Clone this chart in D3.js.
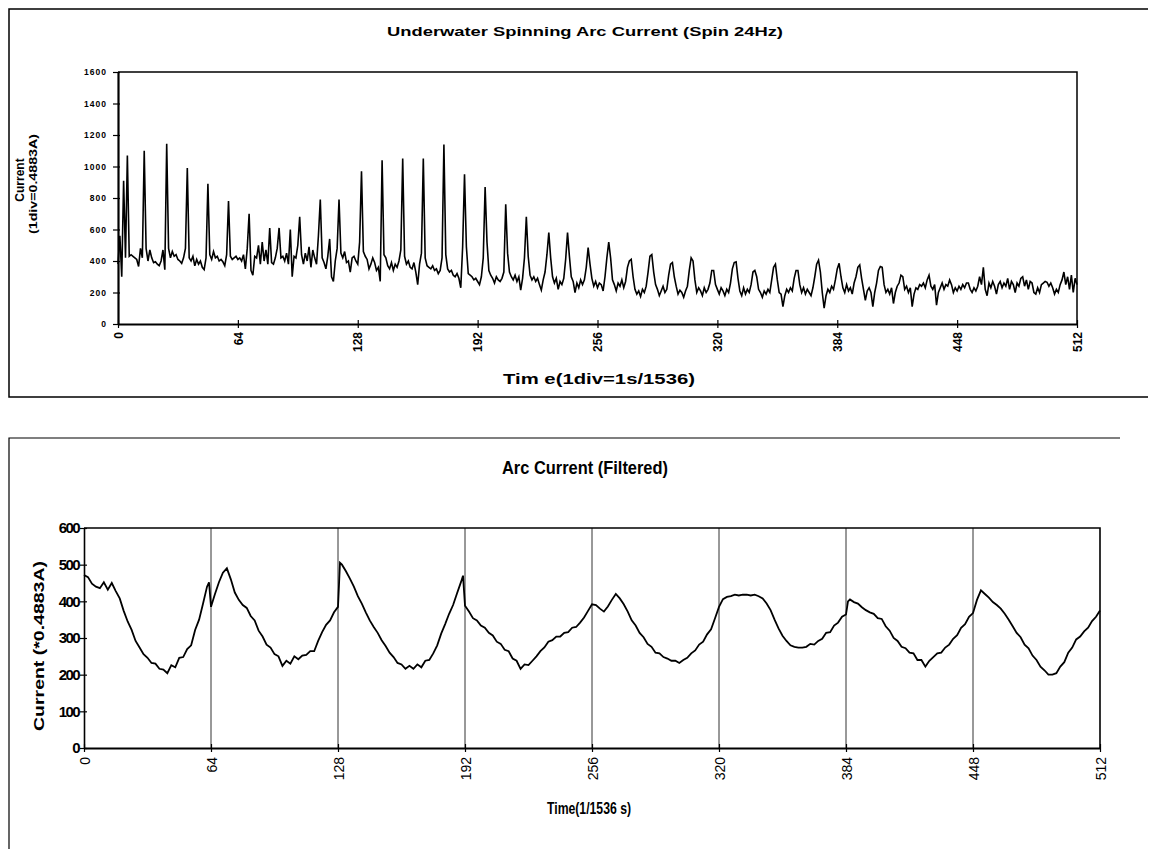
<!DOCTYPE html>
<html>
<head>
<meta charset="utf-8">
<script src="https://cdn.jsdelivr.net/npm/d3@7"></script>
<style>
  body { margin: 0; background: #fff; }
  svg { display: block; }
  text { font-family: "Liberation Sans", Arial, sans-serif; fill: #000; }
</style>
</head>
<body>
<svg id="chart" width="1153" height="849"></svg>
<script>
// raw current, one sample per div (t = 0..512)
const rawCurrent = [
  380, 560, 300, 910, 420, 1070, 430, 440, 430, 420, 410,
  365, 480, 420, 1100, 480, 400, 470, 420, 390, 395, 380,
  370, 400, 470, 345, 1145, 480, 420, 460, 430, 440, 410,
  400, 385, 420, 480, 990, 420, 400, 430, 370, 410, 380,
  400, 360, 345, 420, 890, 440, 410, 460, 420, 430, 400,
  410, 395, 370, 440, 780, 430, 410, 420, 430, 410, 420,
  400, 440, 350, 480, 700, 340, 310, 430, 420, 500, 380,
  520, 400, 470, 380, 610, 390, 380, 420, 480, 610, 420,
  430, 400, 450, 380, 600, 300, 430, 420, 500, 680, 440,
  380, 450, 400, 490, 360, 470, 420, 380, 560, 790, 420,
  390, 350, 430, 540, 300, 270, 400, 480, 790, 450, 420,
  460, 390, 400, 330, 420, 430, 400, 380, 520, 970, 460,
  430, 410, 350, 380, 420, 390, 340, 360, 270, 1040, 440,
  420, 370, 350, 390, 340, 380, 360, 400, 470, 1050, 430,
  380, 400, 360, 350, 390, 330, 250, 380, 450, 1050, 420,
  370, 360, 350, 370, 340, 350, 320, 340, 420, 1140, 440,
  350, 330, 340, 310, 300, 320, 290, 230, 490, 950, 490,
  320, 310, 300, 280, 290, 270, 250, 300, 420, 870, 520,
  340, 310, 290, 260, 300, 280, 270, 290, 330, 760, 450,
  330, 300, 280, 310, 270, 300, 215, 290, 420, 680, 430,
  310, 280, 300, 270, 290, 250, 215, 280, 330, 440, 580,
  420, 300, 260, 290, 220, 270, 250, 290, 410, 580, 430,
  300, 270, 200, 260, 230, 280, 250, 280, 360, 485, 380,
  290, 240, 270, 230, 260, 250, 210, 300, 420, 520, 420,
  280, 250, 210, 260, 240, 280, 230, 270, 360, 400, 410,
  300, 220, 190, 210, 175, 220, 200, 240, 330, 430, 440,
  330, 250, 220, 180, 210, 240, 200, 220, 310, 380, 390,
  300, 240, 190, 215, 200, 170, 210, 240, 340, 420, 400,
  280, 200, 230, 210, 180, 230, 200, 220, 260, 340, 340,
  250, 220, 190, 230, 210, 180, 220, 200, 260, 350, 390,
  395, 290, 210, 180, 230, 190, 220, 200, 250, 330, 340,
  300, 220, 200, 170, 210, 190, 220, 200, 280, 360, 380,
  280, 200, 190, 110, 180, 220, 200, 230, 210, 290, 340,
  340, 250, 200, 230, 190, 220, 200, 180, 230, 300, 380,
  405, 330, 200, 100, 180, 220, 200, 240, 220, 280, 350,
  385, 300, 230, 200, 250, 210, 230, 190, 260, 300, 360,
  375, 290, 220, 150, 210, 230, 200, 110, 200, 260, 340,
  365, 360, 250, 200, 220, 190, 230, 130, 200, 240, 260,
  310, 300, 220, 240, 200, 230, 110, 190, 230, 220, 250,
  240, 260, 230, 280, 310, 240, 220, 250, 120, 200, 230,
  260, 220, 250, 240, 280, 250, 200, 230, 210, 240, 220,
  250, 230, 260, 260, 220, 200, 230, 210, 240, 300, 250,
  360, 220, 180, 260, 230, 270, 240, 190, 250, 270, 230,
  260, 240, 290, 220, 270, 250, 200, 260, 240, 290, 300,
  240, 280, 220, 270, 260, 200, 190, 230, 200, 250, 260,
  270, 265, 240, 260, 230, 190, 220, 200, 250, 280, 330,
  250, 300, 220, 310, 200, 290, 250
];

// filtered current, read at irregular times
const filtTime = [
  0, 2, 4, 6, 8, 10, 12, 14, 16, 18, 20, 22, 24, 26, 28, 30, 32, 34, 36, 38,
  40, 42, 44, 46, 48, 50, 52, 54, 56, 58, 60, 62, 63, 64, 66, 68, 70, 72, 74, 76,
  78, 80, 82, 84, 86, 88, 90, 92, 94, 96, 98, 100, 102, 104, 106, 108, 110, 112, 114, 116,
  118, 120, 122, 124, 126, 128, 129, 130, 132, 134, 136, 138, 140, 142, 144, 146, 148, 150, 152, 154,
  156, 158, 160, 162, 164, 166, 168, 170, 172, 174, 176, 178, 180, 182, 184, 186, 188, 190, 191, 192,
  194, 196, 198, 200, 202, 204, 206, 208, 210, 212, 214, 216, 218, 220, 222, 224, 226, 228, 230, 232,
  234, 236, 238, 240, 242, 244, 246, 248, 250, 252, 254, 256, 258, 260, 262, 264, 266, 268, 270, 272,
  274, 276, 278, 280, 282, 284, 286, 288, 290, 292, 294, 296, 298, 300, 302, 304, 306, 308, 310, 312,
  314, 316, 318, 320, 322, 324, 326, 328, 330, 332, 334, 336, 338, 340, 342, 344, 346, 348, 350, 352,
  354, 356, 358, 360, 362, 364, 366, 368, 370, 372, 374, 376, 378, 380, 382, 384, 385, 386, 388, 390,
  392, 394, 396, 398, 400, 402, 404, 406, 408, 410, 412, 414, 416, 418, 420, 422, 424, 426, 428, 430,
  432, 434, 436, 438, 440, 442, 444, 446, 448, 450, 452, 454, 456, 458, 460, 462, 464, 466, 468, 470,
  472, 474, 476, 478, 480, 482, 484, 486, 488, 490, 492, 494, 496, 498, 500, 502, 504, 506, 508, 510, 512
];
const filtCurrent = [
  472, 466, 448, 440, 436, 452, 432, 450, 428, 408, 374, 345, 322, 292, 274, 256, 246, 232, 230, 216,
  214, 204, 226, 220, 246, 248, 270, 280, 322, 350, 394, 440, 452, 385, 420, 452, 478, 490, 460, 424,
  404, 390, 382, 360, 348, 320, 304, 282, 274, 256, 250, 224, 238, 230, 250, 242, 252, 254, 264, 264,
  292, 316, 336, 348, 370, 385, 505, 500, 482, 462, 440, 414, 394, 370, 348, 330, 314, 294, 278, 260,
  248, 232, 228, 216, 224, 216, 228, 220, 238, 240, 258, 280, 312, 338, 366, 390, 422, 453, 470, 388,
  372, 354, 348, 334, 328, 314, 307, 290, 284, 268, 264, 244, 238, 216, 228, 226, 238, 250, 264, 274,
  290, 294, 304, 304, 314, 316, 328, 330, 342, 356, 374, 392, 390, 380, 372, 386, 404, 420, 408, 392,
  372, 348, 334, 314, 302, 284, 276, 260, 258, 248, 244, 238, 238, 232, 240, 246, 258, 266, 282, 290,
  310, 324, 354, 385, 406, 412, 414, 418, 416, 418, 418, 416, 418, 414, 408, 394, 376, 350, 326, 306,
  292, 280, 276, 274, 274, 276, 284, 282, 292, 298, 314, 316, 334, 342, 358, 364, 400, 405, 398, 394,
  384, 376, 370, 366, 354, 352, 332, 320, 300, 292, 276, 272, 260, 258, 240, 240, 222, 238, 248, 258,
  260, 274, 282, 298, 308, 328, 338, 358, 368, 404, 430, 420, 410, 398, 390, 380, 366, 350, 332, 314,
  302, 282, 272, 252, 240, 222, 212, 200, 200, 204, 222, 234, 260, 274, 296, 304, 318, 328, 346, 358, 375
];

const topXTicks = d3.range(0, 513, 64);
const topYTicks = [0, 200, 400, 600, 800, 1000, 1200, 1400, 1600];
const botXTicks = d3.range(0, 513, 64);
const botYTicks = [0, 100, 200, 300, 400, 500, 600];

const svg = d3.select("#chart");

// ---------- outer frames (scanned page look) ----------
svg.append("path")
  .attr("d", "M1148,9 H9 V397 H1148")
  .attr("fill", "none").attr("stroke", "#000").attr("stroke-width", 1.5);
svg.append("path")
  .attr("d", "M1120,438 H9 V849")
  .attr("fill", "none").attr("stroke", "#000").attr("stroke-width", 1.2);

// ---------- top chart ----------
const xT = d3.scaleLinear().domain([0, 512]).range([118, 1077]);
const yT = d3.scaleLinear().domain([0, 1600]).range([324, 72]);

const topG = svg.append("g");

// plot border (top + right)
topG.append("path")
  .attr("d", `M${xT(0)},${yT(1600)} H${xT(512)} V${yT(0)}`)
  .attr("fill", "none").attr("stroke", "#000").attr("stroke-width", 1.5);

const tyAxis = topG.append("g")
  .attr("transform", `translate(${xT(0)},0)`)
  .call(d3.axisLeft(yT).tickValues(topYTicks).tickFormat(d3.format("d"))
    .tickSize(0).tickPadding(11));
tyAxis.select(".domain").attr("stroke", "#000").attr("stroke-width", 2.2);
tyAxis.selectAll("text")
  .style("font-size", "8.5px").style("font-weight", "bold")
  .style("letter-spacing", "1px")
  .style("font-family", "'Liberation Sans', Arial, sans-serif");
tyAxis.selectAll(".tick").append("line")
  .attr("x1", -5).attr("x2", 2).attr("stroke", "#000").attr("stroke-width", 1.2);

const txAxis = topG.append("g")
  .attr("transform", `translate(0,${yT(0)})`)
  .call(d3.axisBottom(xT).tickValues(topXTicks).tickSize(0).tickFormat(""));
txAxis.select(".domain").attr("stroke", "#000").attr("stroke-width", 2.2);
txAxis.selectAll(".tick").append("line")
  .attr("y1", -4).attr("y2", 4).attr("stroke", "#000").attr("stroke-width", 1.2);
txAxis.selectAll(".tick").append("text")
  .attr("transform", "translate(0,8) rotate(-90)")
  .attr("text-anchor", "end").attr("dy", "0.35em")
  .style("font-size", "12px").style("font-weight", "bold")
  .text(d => d);

const rawLine = d3.line()
  .x((d, i) => xT(i))
  .y(d => yT(d));
topG.append("path")
  .datum(rawCurrent)
  .attr("d", rawLine)
  .attr("fill", "none").attr("stroke", "#000").attr("stroke-width", 1.6)
  .attr("stroke-linejoin", "miter");

topG.append("text")
  .attr("x", 585).attr("y", 36).attr("text-anchor", "middle")
  .attr("textLength", 396).attr("lengthAdjust", "spacingAndGlyphs")
  .style("font-size", "13px").style("font-weight", "bold")
  .text("Underwater Spinning Arc Current (Spin 24Hz)");

topG.append("text")
  .attr("x", 599).attr("y", 384).attr("text-anchor", "middle")
  .attr("textLength", 192).attr("lengthAdjust", "spacingAndGlyphs")
  .style("font-size", "15px").style("font-weight", "bold")
  .text("Tim e(1div=1s/1536)");

topG.append("text")
  .attr("transform", "translate(24,180) rotate(-90)")
  .attr("text-anchor", "middle")
  .style("font-size", "12px").style("font-weight", "bold")
  .text("Current");
topG.append("text")
  .attr("transform", "translate(37,184) rotate(-90)")
  .attr("text-anchor", "middle")
  .attr("textLength", 100).attr("lengthAdjust", "spacingAndGlyphs")
  .style("font-size", "11px").style("font-weight", "bold")
  .text("(1div=0.4883A)");

// ---------- bottom chart ----------
const xB = d3.scaleLinear().domain([0, 512]).range([84, 1100]);
const yB = d3.scaleLinear().domain([0, 600]).range([748, 528]);

const botG = svg.append("g");

// vertical gridlines
botG.selectAll("line.grid")
  .data(botXTicks.filter(d => d > 0 && d < 512))
  .enter().append("line")
  .attr("class", "grid")
  .attr("x1", d => xB(d)).attr("x2", d => xB(d))
  .attr("y1", yB(600)).attr("y2", yB(0))
  .attr("stroke", "#333").attr("stroke-width", 1);

botG.append("path")
  .attr("d", `M${xB(0)},${yB(600)} H${xB(512)} V${yB(0)}`)
  .attr("fill", "none").attr("stroke", "#000").attr("stroke-width", 1.6);

const byAxis = botG.append("g")
  .attr("transform", `translate(${xB(0)},0)`)
  .call(d3.axisLeft(yB).tickValues(botYTicks).tickSize(0).tickPadding(5));
byAxis.select(".domain").attr("stroke", "#000").attr("stroke-width", 1.6);
byAxis.selectAll("text")
  .style("font-size", "15px").style("font-weight", "bold")
  .style("letter-spacing", "-1.6px")
  .style("font-family", "'Liberation Sans', Arial, sans-serif");
byAxis.selectAll(".tick").append("line")
  .attr("x1", -4).attr("x2", 3).attr("stroke", "#000").attr("stroke-width", 1.2);

const bxAxis = botG.append("g")
  .attr("transform", `translate(0,${yB(0)})`)
  .call(d3.axisBottom(xB).tickValues(botXTicks).tickSize(0).tickFormat(""));
bxAxis.select(".domain").attr("stroke", "#000").attr("stroke-width", 2);
bxAxis.selectAll(".tick").append("line")
  .attr("y1", -4).attr("y2", 4).attr("stroke", "#000").attr("stroke-width", 1.2);
bxAxis.selectAll(".tick").append("text")
  .attr("transform", "translate(0,9) rotate(-90)")
  .attr("text-anchor", "end").attr("dy", "0.36em")
  .style("font-size", "14px")
  .text(d => d);

const filtLine = d3.line()
  .x((d, i) => xB(filtTime[i]))
  .y(d => yB(d));
botG.append("path")
  .datum(filtCurrent)
  .attr("d", filtLine)
  .attr("fill", "none").attr("stroke", "#000").attr("stroke-width", 1.8);

botG.append("text")
  .attr("x", 585).attr("y", 474).attr("text-anchor", "middle")
  .attr("textLength", 166).attr("lengthAdjust", "spacingAndGlyphs")
  .style("font-size", "18px").style("font-weight", "bold")
  .text("Arc Current (Filtered)");

botG.append("text")
  .attr("x", 589).attr("y", 814).attr("text-anchor", "middle")
  .attr("textLength", 84).attr("lengthAdjust", "spacingAndGlyphs")
  .style("font-size", "16px").style("font-weight", "bold")
  .text("Time(1/1536 s)");

botG.append("text")
  .attr("transform", "translate(44,646) rotate(-90)")
  .attr("text-anchor", "middle")
  .attr("textLength", 170).attr("lengthAdjust", "spacingAndGlyphs")
  .style("font-size", "15px").style("font-weight", "bold")
  .text("Current (*0.4883A)");
</script>
</body>
</html>
